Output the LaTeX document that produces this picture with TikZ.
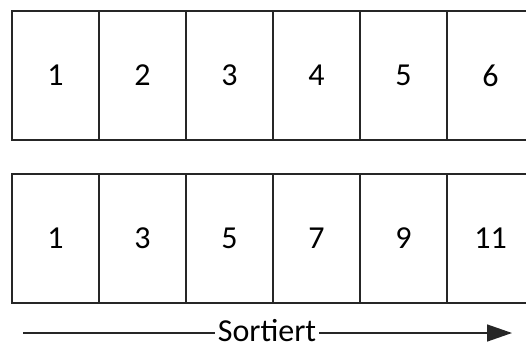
\documentclass[tikz,border=0pt]{standalone}
\usepackage{fontspec}
\setmainfont{Carlito}
\usetikzlibrary{arrows.meta}
\begin{document}
\begin{tikzpicture}[x=1pt,y=-1pt,
  cell/.style={draw=black!85,line width=1.5pt,minimum width=87pt,minimum height=129pt,inner sep=0pt,font=\fontsize{32}{34}\selectfont},
  lbl/.style={fill=white,inner xsep=3pt,inner ysep=0pt,font=\fontsize{32}{34}\selectfont}]
\useasboundingbox (0,0) rectangle (526,345);
\foreach \v [count=\i from 0] in {1,2,3,4,5,6}
  \node[cell] (a\i) at (55.5+87*\i,75.5) {\v};
\foreach \v [count=\i from 0] in {1,3,5,7,9,11}
  \node[cell] (b\i) at (55.5+87*\i,238.5) {\v};
\coordinate (s) at (23,333);
\coordinate (e) at (512,333);
\draw[line width=1.5pt,black!85,-{Triangle[length=25pt,width=17pt]}] (s) -- (e);
\node[lbl] (t) at (267,331) {Sortiert};
\end{tikzpicture}
\end{document}
